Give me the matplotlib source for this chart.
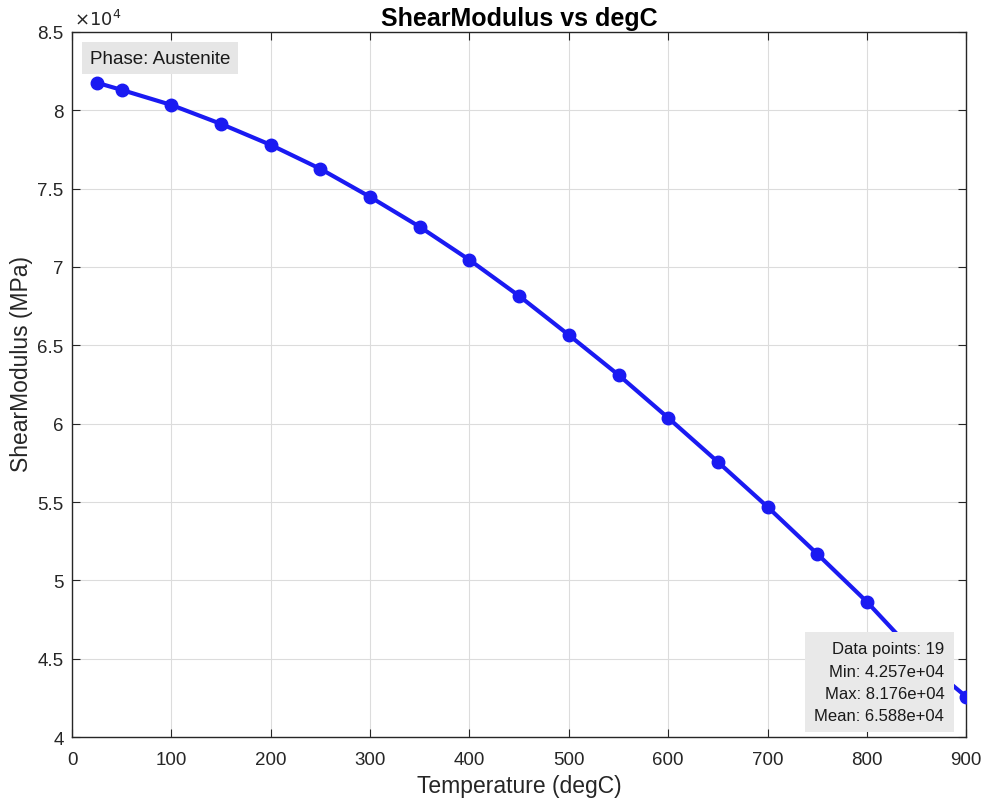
import matplotlib
matplotlib.use("Agg")
import matplotlib.pyplot as plt
import numpy as np
from matplotlib.ticker import FuncFormatter

plt.rcParams['font.family'] = ['Liberation Sans', 'DejaVu Sans']

temperature = [25, 50, 100, 150, 200, 250, 300, 350, 400, 450, 500,
               550, 600, 650, 700, 750, 800, 850, 900]
shear_modulus = [81760, 81300, 80340, 79130, 77790, 76260, 74470, 72560,
                 70450, 68150, 65660, 63110, 60370, 57560, 54690, 51690,
                 48630, 45230, 42570]

x = np.array(temperature)
y = np.array(shear_modulus)

fig = plt.figure(figsize=(9.87, 8.04), dpi=100)
ax = fig.add_axes([0.073, 0.082, 0.906, 0.877])

ax.plot(x, y, '-o', color=(0.1, 0.1, 0.95), lw=3, ms=9, zorder=3)

ax.set_xlim(0, 900)
ax.set_ylim(40000, 85000)
ax.set_xticks(np.arange(0, 901, 100))
ax.set_yticks(np.arange(40000, 85001, 5000))
ax.yaxis.set_major_formatter(FuncFormatter(lambda v, p: f"{v/1e4:g}"))
ax.tick_params(direction='in', labelsize=13.5, colors='#262626', length=6,
               top=True, right=True)
ax.tick_params(axis='x', pad=10)
ax.tick_params(axis='y', pad=6)
ax.grid(True, color='#dcdcdc', lw=0.8)
ax.set_axisbelow(True)
for s in ax.spines.values():
    s.set_color('#262626')
    s.set_linewidth(1.0)

ax.text(0.002, 1.004, r'$\times10^{4}$', transform=ax.transAxes, fontsize=13,
        color='#262626', ha='left', va='bottom')

ax.set_title('ShearModulus vs degC', fontsize=18, fontweight='bold', pad=5)
ax.set_xlabel('Temperature (degC)', fontsize=16.5, color='#262626', labelpad=4)
ax.set_ylabel('ShearModulus (MPa)', fontsize=16.5, color='#262626')
ax.yaxis.set_label_coords(-0.044, 0.53)

ax.text(0.02, 0.975, 'Phase: Austenite', transform=ax.transAxes, fontsize=13.5,
        ha='left', va='top', zorder=5, color='#1a1a1a',
        bbox=dict(boxstyle='square,pad=0.4', fc='#e6e6e6', ec='none'))

stats = (f"Data points: {len(y)}\nMin: {y.min():.3e}\nMax: {y.max():.3e}\n"
         f"Mean: {y.mean():.3e}")
ax.text(0.9755, 0.02, stats, transform=ax.transAxes, fontsize=12,
        ha='right', va='bottom', multialignment='right', linespacing=1.6,
        zorder=5, color='#1a1a1a',
        bbox=dict(boxstyle='square,pad=0.55', fc='#e9e9e9', ec='none'))

fig.savefig('out.png', dpi=100)
